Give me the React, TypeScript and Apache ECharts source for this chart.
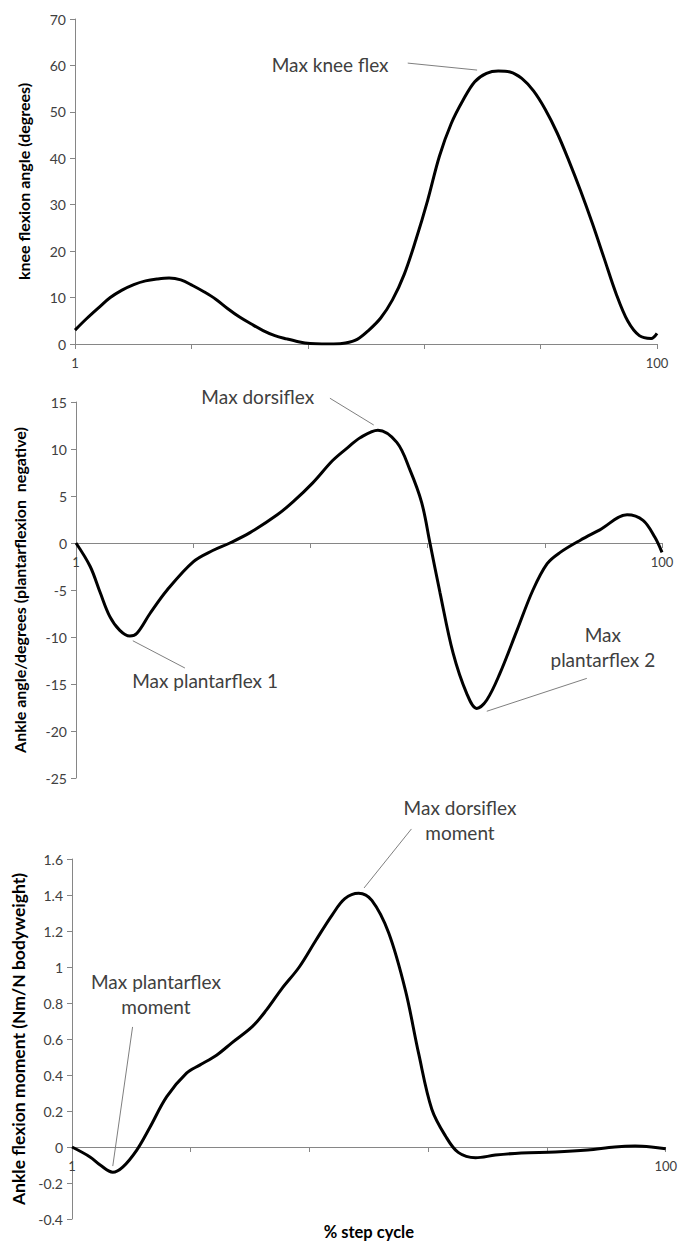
import React, { useEffect, useRef } from "react";
import * as echarts from "echarts";

// % step cycle positions and values
const kneeX = [1, 3, 5, 7, 9, 11, 13, 15, 17, 19, 21, 23, 25, 27, 29, 31, 33, 35, 37, 39, 41, 43, 45, 47, 49, 51, 53, 55, 57, 59, 61, 63, 65, 67, 69, 71, 73, 75, 77, 79, 81, 83, 85, 87, 89, 91, 93, 95, 97, 99, 100];
const kneeY = [3.0, 5.5, 7.8, 10.0, 11.6, 12.8, 13.6, 14.0, 14.2, 13.8, 12.6, 11.2, 9.6, 7.6, 5.8, 4.3, 2.9, 1.8, 1.1, 0.5, 0.1, 0, 0, 0.2, 1.0, 3.0, 5.6, 9.5, 15.0, 22.5, 31, 40.5, 47.5, 52.5, 56.5, 58.3, 58.8, 58.6, 57.2, 54.5, 50.5, 45.5, 39.5, 33, 26, 18.5, 11, 5, 1.8, 1.2, 2.3];

const ankleX = [1, 3.4, 5.1, 6.7, 8.4, 10.1, 11.3, 13.5, 16.4, 20.8, 24.1, 27, 30.4, 35, 37.7, 41, 44.4, 47, 49, 52, 55.2, 57.4, 59.4, 60.8, 62.5, 64.7, 67, 68.7, 70.4, 72.6, 75.5, 78.2, 80.6, 82.8, 86.2, 89.5, 94.1, 96.8, 98.8, 100];
const ankleY = [0, -2.5, -5.3, -7.8, -9.3, -9.9, -9.6, -7.5, -5.0, -2.0, -0.8, 0, 1.1, 3.0, 4.4, 6.4, 8.8, 10.2, 11.2, 12.0, 10.7, 7.8, 4.3, 0, -5.3, -11.7, -16, -17.6, -16.7, -13.9, -9.3, -5.0, -2.2, -1.0, 0.3, 1.4, 3.0, 2.4, 0.6, -1.0];

const momentX = [1, 4, 5.7, 7.8, 9.5, 11.8, 14, 16.8, 20.1, 22.3, 25.1, 27.7, 31.1, 33.4, 36, 38.9, 41.7, 44.4, 46.5, 48.8, 51, 53.8, 56.6, 58.8, 61, 63.3, 65.4, 68.3, 71.6, 75.9, 81.6, 87, 91.5, 94.9, 97.6, 100];
const momentY = [0, -0.055, -0.1, -0.14, -0.11, -0.017, 0.11, 0.28, 0.41, 0.455, 0.51, 0.58, 0.67, 0.76, 0.88, 1.0, 1.15, 1.29, 1.38, 1.41, 1.37, 1.19, 0.87, 0.52, 0.21, 0.06, -0.03, -0.06, -0.045, -0.033, -0.028, -0.017, 0, 0.005, 0, -0.01];

const xTickValues = [1, 20.8, 40.6, 60.4, 80.2, 100];
const xLabelValues = [1, 100];

const yTitles = [
  "knee flexion angle (degrees)",
  "Ankle angle/degrees (plantarflexion  negative)",
  "Ankle flexion moment (Nm/N bodyweight)",
];
const xTitle = "% step cycle";

// annotations: text anchor and leader line, in data coordinates of each grid
const annotations = [
  { grid: 0, text: "Max knee flex", tx: 44.4, ty: 60.1, x1: 57.6, y1: 60.5, x2: 69.4, y2: 59.0 },
  { grid: 1, text: "Max dorsiflex", tx: 31.7, ty: 15.6, x1: 43.9, y1: 15.4, x2: 51.3, y2: 12.55 },
  { grid: 1, text: "Max plantarflex 1", tx: 22.8, ty: -14.6, x1: 19.4, y1: -13.3, x2: 10.6, y2: -10.4 },
  { grid: 1, text: "Max\nplantarflex 2", tx: 90.0, ty: -11.1, x1: 87.3, y1: -14.4, x2: 70.4, y2: -17.9 },
  { grid: 2, text: "Max plantarflex\nmoment", tx: 15.0, ty: 0.848, x1: 11.1, y1: 0.667, x2: 7.8, y2: -0.106 },
  { grid: 2, text: "Max dorsiflex\nmoment", tx: 65.7, ty: 1.815, x1: 57.6, y1: 1.767, x2: 49.7, y2: 1.439 },
];

const FONT = "Lato";
const AXIS = "#868686";
const LABEL = "#404040";

// grid boxes and y ranges
const grids = [
  { left: 75, right: 23, top: 19, height: 325 },
  { left: 76, right: 18, top: 402, height: 376 },
  { left: 72, right: 12, top: 859, height: 360 },
];
const yRanges = [
  { min: 0, max: 70, interval: 10 },
  { min: -25, max: 15, interval: 5 },
  { min: -0.4, max: 1.6, interval: 0.2 },
];

function makeX(gridIndex: number) {
  const r = yRanges[gridIndex];
  // move the x axis (line, ticks and labels) up to value 0
  const offset = -grids[gridIndex].height * ((0 - r.min) / (r.max - r.min));
  return {
    type: "value",
    gridIndex,
    min: 1,
    max: 100,
    offset,
    axisLine: { onZero: false, lineStyle: { color: AXIS, width: 1 } },
    axisTick: { show: true, length: 5, customValues: xTickValues, lineStyle: { color: AXIS } },
    axisLabel: { customValues: xLabelValues, color: LABEL, fontFamily: FONT, fontSize: 13, margin: 12 },
    splitLine: { show: false },
  };
}

function makeY(gridIndex: number, name: string, gap: number, titleSize: number) {
  const r = yRanges[gridIndex];
  return {
    type: "value",
    gridIndex,
    min: r.min,
    max: r.max,
    interval: r.interval,
    axisLine: { show: true, onZero: false, lineStyle: { color: AXIS, width: 1 } },
    axisTick: { show: true, length: 5, lineStyle: { color: AXIS } },
    axisLabel: { color: LABEL, fontFamily: FONT, fontSize: 14, margin: 9 },
    splitLine: { show: false },
    name,
    nameLocation: "middle",
    nameGap: gap,
    nameTextStyle: { fontWeight: "bold", fontSize: titleSize, color: "#000", fontFamily: FONT },
  };
}

function pairs(xs: number[], ys: number[]) {
  return xs.map((x, i) => [x, ys[i]]);
}

function makeSeries(idx: number, data: number[][]) {
  return {
    type: "line",
    xAxisIndex: idx,
    yAxisIndex: idx,
    data,
    smooth: 0.35,
    showSymbol: false,
    symbol: "none",
    lineStyle: { color: "#000", width: 3 },
  };
}

export default function App() {
  const ref = useRef<HTMLDivElement>(null);
  useEffect(() => {
    document.body.style.margin = "0";
    const chart = echarts.init(ref.current!, null, { renderer: "svg" });
    chart.setOption({
      animation: false,
      backgroundColor: "#fff",
      grid: grids,
      xAxis: [makeX(0), makeX(1), makeX(2)],
      yAxis: [
        makeY(0, yTitles[0], 44, 16),
        makeY(1, yTitles[1], 49, 16),
        makeY(2, yTitles[2], 44, 17.5),
      ],
      series: [
        makeSeries(0, pairs(kneeX, kneeY)),
        makeSeries(1, pairs(ankleX, ankleY)),
        makeSeries(2, pairs(momentX, momentY)),
      ],
    });

    const graphics: any[] = [];
    annotations.forEach((a) => {
      const t = chart.convertToPixel({ gridIndex: a.grid } as any, [a.tx, a.ty]) as number[];
      const p1 = chart.convertToPixel({ gridIndex: a.grid } as any, [a.x1, a.y1]) as number[];
      const p2 = chart.convertToPixel({ gridIndex: a.grid } as any, [a.x2, a.y2]) as number[];
      graphics.push({
        type: "line",
        shape: { x1: p1[0], y1: p1[1], x2: p2[0], y2: p2[1] },
        style: { stroke: "#7f7f7f", lineWidth: 1 },
        z: 5,
      });
      graphics.push({
        type: "text",
        x: t[0],
        y: t[1],
        style: {
          text: a.text,
          font: `19px ${FONT}`,
          fill: LABEL,
          textAlign: "center",
          align: "center",
          textVerticalAlign: "middle",
          verticalAlign: "middle",
          lineHeight: 25,
        },
        z: 5,
      });
    });
    const b = chart.convertToPixel({ gridIndex: 2 } as any, [50.5, -0.4]) as number[];
    graphics.push({
      type: "text",
      x: b[0],
      y: b[1] + 13,
      style: {
        text: xTitle,
        font: `bold 16.5px ${FONT}`,
        fill: "#000",
        textAlign: "center",
        align: "center",
        textVerticalAlign: "middle",
        verticalAlign: "middle",
      },
    });
    chart.setOption({ graphic: graphics });
    return () => chart.dispose();
  }, []);
  return <div ref={ref} style={{ width: 680, height: 1243 }} />;
}
